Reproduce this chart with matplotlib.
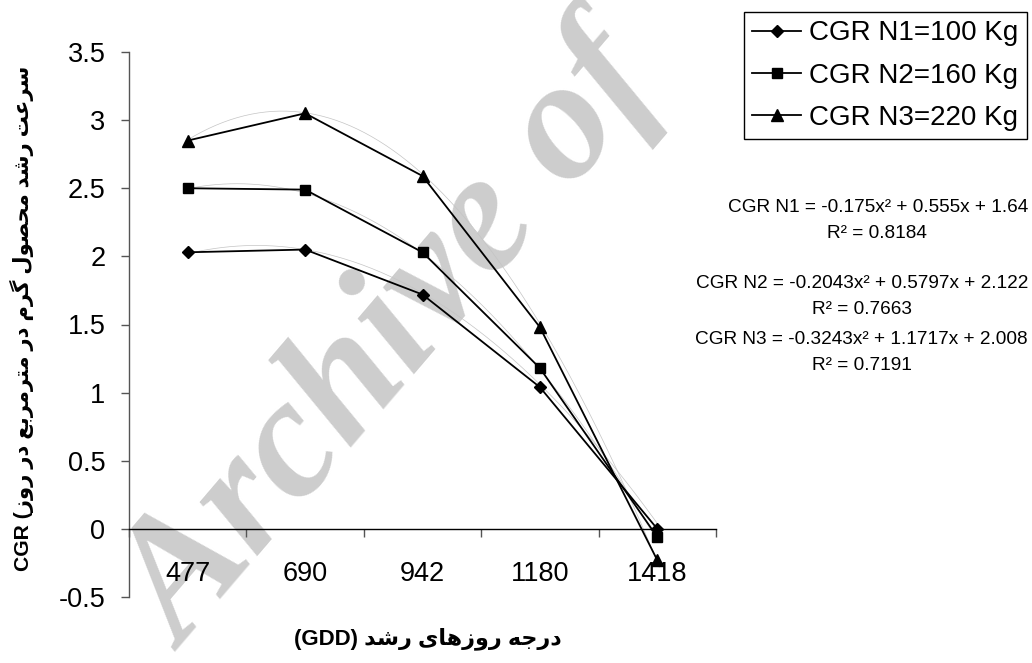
import matplotlib
matplotlib.use("Agg")
import matplotlib.pyplot as plt
import numpy as np
from matplotlib.lines import Line2D

# ---------------- data ----------------
categories = ["477", "690", "942", "1180", "1418"]
cgr_n1 = [2.03, 2.05, 1.72, 1.04, 0.00]
cgr_n2 = [2.50, 2.49, 2.03, 1.18, -0.06]
cgr_n3 = [2.85, 3.05, 2.59, 1.48, -0.23]
series_labels = ["CGR N1=100 Kg", "CGR N2=160 Kg", "CGR N3=220 Kg"]
series_markers = ["D", "s", "^"]
trend_coefs = [(-0.175, 0.555, 1.64), (-0.2043, 0.5797, 2.122), (-0.3243, 1.1717, 2.008)]
trend_eqs = ["CGR N1 = -0.175x\u00b2 + 0.555x + 1.64",
             "CGR N2 = -0.2043x\u00b2 + 0.5797x + 2.122",
             "CGR N3 = -0.3243x\u00b2 + 1.1717x + 2.008"]
trend_r2 = ["R\u00b2 = 0.8184", "R\u00b2 = 0.7663", "R\u00b2 = 0.7191"]
y_ticks = [-0.5, 0, 0.5, 1, 1.5, 2, 2.5, 3, 3.5]
y_ticklabels = ["-0.5", "0", "0.5", "1", "1.5", "2", "2.5", "3", "3.5"]
ylabel_fa = "سرعت رشد محصول گرم در مترمربع در روز"
xlabel_fa = "درجه روزهای رشد"
watermark = "Archive of"

# ------------- simple Persian shaping (matplotlib has no shaping) -------------
FORMS = {  # isolated, final, initial, medial
    'ا': ('\uFE8D', '\uFE8E', None, None),
    'ب': ('\uFE8F', '\uFE90', '\uFE91', '\uFE92'),
    'ت': ('\uFE95', '\uFE96', '\uFE97', '\uFE98'),
    'ج': ('\uFE9D', '\uFE9E', '\uFE9F', '\uFEA0'),
    'ح': ('\uFEA1', '\uFEA2', '\uFEA3', '\uFEA4'),
    'د': ('\uFEA9', '\uFEAA', None, None),
    'ر': ('\uFEAD', '\uFEAE', None, None),
    'ز': ('\uFEAF', '\uFEB0', None, None),
    'س': ('\uFEB1', '\uFEB2', '\uFEB3', '\uFEB4'),
    'ش': ('\uFEB5', '\uFEB6', '\uFEB7', '\uFEB8'),
    'ص': ('\uFEB9', '\uFEBA', '\uFEBB', '\uFEBC'),
    'ع': ('\uFEC9', '\uFECA', '\uFECB', '\uFECC'),
    'ل': ('\uFEDD', '\uFEDE', '\uFEDF', '\uFEE0'),
    'م': ('\uFEE1', '\uFEE2', '\uFEE3', '\uFEE4'),
    'ه': ('\uFEE9', '\uFEEA', '\uFEEB', '\uFEEC'),
    'و': ('\uFEED', '\uFEEE', None, None),
    'ی': ('\uFBFC', '\uFBFD', '\uFBFE', '\uFBFF'),
    'گ': ('\uFB92', '\uFB93', '\uFB94', '\uFB95'),
}


def shape_rtl(text):
    out = []
    n = len(text)
    for i, ch in enumerate(text):
        if ch not in FORMS:
            out.append(ch)
            continue
        prev = text[i - 1] if i > 0 else ''
        nxt = text[i + 1] if i < n - 1 else ''
        join_prev = prev in FORMS and FORMS[prev][2] is not None
        join_next = FORMS[ch][2] is not None and nxt in FORMS
        iso, fin, ini, med = FORMS[ch]
        if join_prev and join_next:
            out.append(med)
        elif join_prev:
            out.append(fin)
        elif join_next:
            out.append(ini)
        else:
            out.append(iso)
    return ''.join(out)[::-1]


# ---------------- figure ----------------
plt.rcParams['font.family'] = ['Liberation Sans', 'DejaVu Sans']
fig = plt.figure(figsize=(10.32, 6.63), dpi=100)
ax = fig.add_axes([129 / 1032, 1 - 597 / 663, (716 - 129) / 1032, (597 - 52) / 663])
ax.patch.set_alpha(0)

x = np.arange(1, len(categories) + 1)
series = [cgr_n1, cgr_n2, cgr_n3]
msizes = [6.5, 6.5, 8]
for vals, mk, ms, lab in zip(series, series_markers, msizes, series_labels):
    ax.plot(x, vals, color='black', lw=1.3, marker=mk, ms=ms, mfc='black',
            mec='black', label=lab, zorder=3)

xs = np.linspace(1, len(categories), 200)
for a, b, c in trend_coefs:
    ax.plot(xs, a * xs ** 2 + b * xs + c, color='#c4c4c4', lw=0.5, zorder=2)

ax.set_xlim(0.5, len(categories) + 0.5)
ax.set_ylim(-0.5, 3.5)
ax.spines['top'].set_visible(False)
ax.spines['right'].set_visible(False)
ax.spines['bottom'].set_position(('data', 0))
ax.spines['bottom'].set_color('black')
ax.spines['left'].set_color('#555555')
ax.spines['bottom'].set_linewidth(1.0)
ax.spines['left'].set_linewidth(1.0)

ax.set_xticks(np.arange(0.5, len(categories) + 1, 1.0))
ax.set_xticklabels([])
ax.set_xticks(x, minor=True)
ax.set_xticklabels(categories, minor=True, fontsize=19.5)
ax.tick_params(axis='x', which='major', direction='out', length=6, width=1, color='#555555')
ax.tick_params(axis='x', which='minor', length=0, pad=23)

ax.set_yticks(y_ticks)
ax.set_yticklabels(y_ticklabels, fontsize=19.5)
ax.tick_params(axis='y', direction='out', length=6, width=1, color='#555555', pad=11)

# axis labels
fig.text(22 / 1032, 1 - 318 / 663, "CGR (" + shape_rtl(ylabel_fa), rotation=90,
         ha='center', va='center', fontsize=15.2, fontweight='bold',
         family=['Liberation Sans', 'DejaVu Sans'])
fig.text(428 / 1032, 1 - 639 / 663, "(GDD) " + shape_rtl(xlabel_fa),
         ha='center', va='center', fontsize=16, fontweight='bold',
         family=['Liberation Sans', 'DejaVu Sans'])

# legend
handles = [Line2D([0], [0], color='black', lw=1.3, marker=mk, ms=ms, mfc='black', mec='black')
           for mk, ms in zip(series_markers, msizes)]
leg = fig.legend(handles, series_labels, loc='upper right',
                 bbox_to_anchor=(1027 / 1032, 1 - 12 / 663), fontsize=20,
                 frameon=True, fancybox=False, edgecolor='black', framealpha=1,
                 handlelength=1.75, handletextpad=0.3, labelspacing=0.59,
                 borderpad=0.3, borderaxespad=0)
leg.get_frame().set_linewidth(1.0)
leg.set_zorder(10)

# trendline equations
eq_y = [208, 283, 340]
r2_y = [233, 310, 365]
r2_x = [877, 862, 862]
for eq, r2, ey, ry, rx in zip(trend_eqs, trend_r2, eq_y, r2_y, r2_x):
    fig.text(1028 / 1032, 1 - ey / 663, eq, ha='right', va='center', fontsize=13.7)
    fig.text(rx / 1032, 1 - ry / 663, r2, ha='center', va='center', fontsize=13.7)

# watermark
fig.text(185 / 1032, 1 - 652 / 663, watermark, rotation=49.5, rotation_mode='anchor',
         ha='left', va='baseline', fontsize=124, fontweight='bold', fontstyle='italic',
         family='Liberation Serif', color='#cdcdcd', zorder=-1)

fig.savefig('out.png', dpi=100)
